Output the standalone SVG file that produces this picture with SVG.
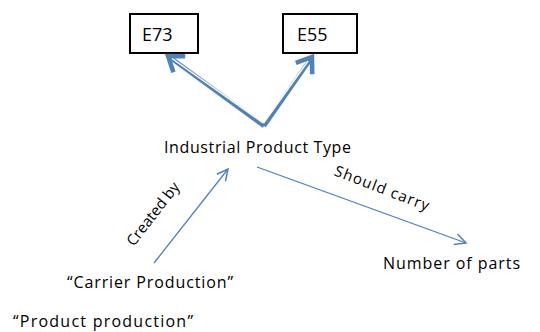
<svg xmlns="http://www.w3.org/2000/svg" width="540" height="332" viewBox="0 0 540 332">
<style>
.box{fill:#fff;stroke:#000;stroke-width:2}
.t{font-family:"Open Sans","Liberation Sans",sans-serif;font-size:16px;fill:#000}
.dbl{fill:none;stroke:#4F81BD;stroke-width:4.5}
.dblin{fill:none;stroke:#fff;stroke-width:1.5}
.sgl{fill:none;stroke:#4F81BD;stroke-width:1.3}
</style>
<defs>
<marker id="hd" markerUnits="userSpaceOnUse" viewBox="-20 -12 24 24" refX="0" refY="0" markerWidth="24" markerHeight="24" orient="auto">
<path d="M-14,-10 L0,0 L-14,10" fill="none" stroke="#4F81BD" stroke-width="4.5" stroke-linejoin="miter"/>
</marker>
<marker id="hs" markerUnits="userSpaceOnUse" viewBox="-14 -8 16 16" refX="0" refY="0" markerWidth="16" markerHeight="16" orient="auto">
<path d="M-11,-5.5 L0,0 L-11,5.5" fill="none" stroke="#4F81BD" stroke-width="1.5"/>
</marker>
</defs>
<g id="E73"><rect class="box" x="130" y="14" width="68" height="39"/><text class="t" x="142" y="41" style="font-size:18px">E73</text></g>
<g id="E55"><rect class="box" x="283" y="14" width="74" height="39"/><text class="t" x="297" y="41" style="font-size:18px">E55</text></g>
<g id="connectors">
<path class="dbl" d="M264,126 L168,56" marker-end="url(#hd)"/>
<path class="dblin" d="M264,123.5 L172,58.5"/>
<path class="dbl" d="M264,126 L312,57" marker-end="url(#hd)"/>
<path class="dblin" d="M263.5,123 L308,61"/>
<path class="sgl" d="M154,263 L228,169" marker-end="url(#hs)"/>
<path class="sgl" d="M257,167 L466,243" marker-end="url(#hs)"/>
<text class="t" transform="translate(157,217) rotate(-52)" text-anchor="middle" style="font-size:15px">Created by</text>
<text class="t" transform="translate(380,193) rotate(21)" text-anchor="middle" style="font-size:15px" textLength="100" lengthAdjust="spacing">Should carry</text>
</g>
<g id="IPT"><text class="t" x="164" y="153" textLength="187" lengthAdjust="spacing">Industrial Product Type</text></g>
<g id="NumParts"><text class="t" x="383" y="269" textLength="137" lengthAdjust="spacing">Number of parts</text></g>
<g id="Carrier"><text class="t" x="67" y="288" textLength="166" lengthAdjust="spacing">“Carrier Production”</text></g>
<g id="Product"><text class="t" x="13" y="327" textLength="180" lengthAdjust="spacing">“Product production”</text></g>
</svg>
